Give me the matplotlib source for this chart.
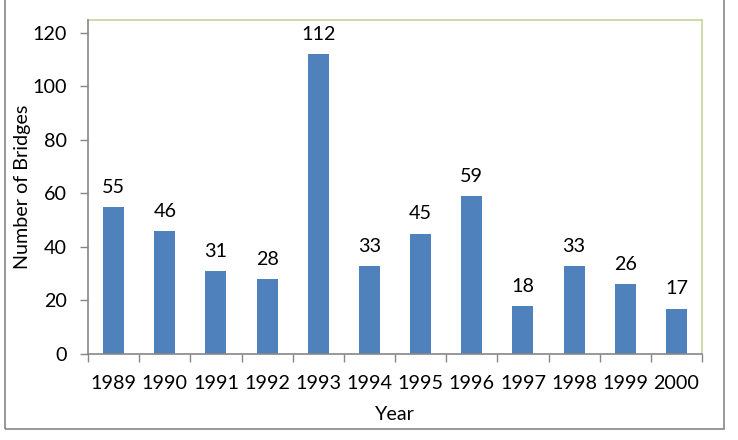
import matplotlib.pyplot as plt
from matplotlib.patches import Rectangle

years = ['1989', '1990', '1991', '1992', '1993', '1994',
         '1995', '1996', '1997', '1998', '1999', '2000']
bridges = [55, 46, 31, 28, 112, 33, 45, 59, 18, 33, 26, 17]

plt.rcParams['font.family'] = ['Lato', 'DejaVu Sans']
FS = 14.2

W, H = 738, 440
fig = plt.figure(figsize=(W / 100, H / 100), dpi=100)

# plot area in pixels: left 88, right 702, top 20, bottom 354
ax = fig.add_axes([88 / W, 1 - 354 / H, (702 - 88) / W, (354 - 20) / H])

x = range(len(years))
ax.bar(x, bridges, width=0.41, color='#4F81BD', zorder=2)

for xi, v in zip(x, bridges):
    ax.annotate(str(v), (xi, v), xytext=(0, 8), textcoords='offset points',
                ha='center', va='bottom', fontsize=FS, color='#000000')

ax.set_xlim(-0.5, len(years) - 0.5)
ax.set_ylim(0, 124.8)
ax.set_yticks(range(0, 121, 20))
ax.set_xticks(x)
ax.set_xticklabels(years)
ax.set_xticks([i - 0.5 for i in range(len(years) + 1)], minor=True)

ax.tick_params(axis='x', which='major', length=0, pad=15, labelsize=FS)
ax.tick_params(axis='x', which='minor', length=6, color='#868686', width=1)
ax.tick_params(axis='y', length=6, color='#868686', width=1, labelsize=FS, pad=9)

for s in ['left', 'bottom']:
    ax.spines[s].set_color('#868686')
    ax.spines[s].set_linewidth(1.2)
    ax.spines[s].set_zorder(3)
for s in ['top', 'right']:
    ax.spines[s].set_color('#C3D69B')
    ax.spines[s].set_linewidth(1.2)

ax.set_ylabel('Number of Bridges', fontsize=FS, labelpad=1.5)
ax.set_xlabel('Year', fontsize=FS, labelpad=10)

# outer chart border
fig.patches.append(Rectangle((5 / W, 1 - 429 / H), (724 - 5) / W, 429 / H + 0.01,
                             transform=fig.transFigure, fill=False,
                             edgecolor='#868686', linewidth=1.2))

fig.savefig('out.png', dpi=100)
